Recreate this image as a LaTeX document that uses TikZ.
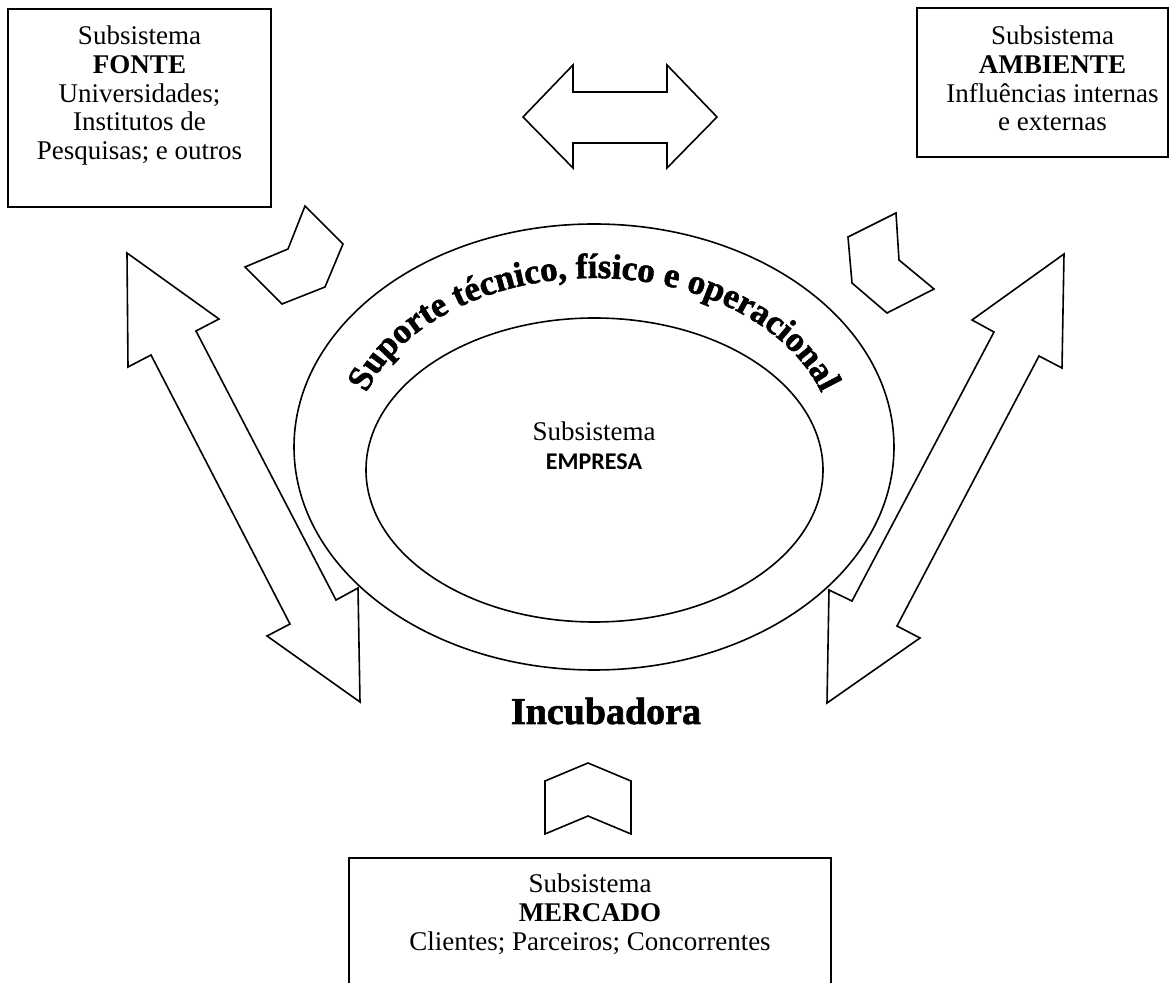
\documentclass[tikz,border=0pt]{standalone}
\usepackage{fontspec}
\setmainfont{Liberation Serif}
\newfontfamily\calibri{Carlito}
\newfontfamily\heavyserif{Liberation Serif}[UprightFont=* Bold,FakeBold=1.6]
\usetikzlibrary{positioning,shapes.geometric,decorations.text}
\newcommand\archfont{\heavyserif\fontsize{17.5}{19}\selectfont}

\begin{document}
\begin{tikzpicture}[x=0.5pt,y=-0.5pt,
  every node/.style={font=\fontsize{13.5}{14.3}\selectfont},
  box/.style={draw,line width=0.8pt,inner sep=0pt},
  txt/.style={align=center,inner sep=0pt},
  ring/.style={draw,ellipse,line width=0.8pt,inner sep=0pt},
  blk/.style={draw,line width=0.8pt,line join=miter,fill=white}]
\useasboundingbox (0,0) rectangle (1174,983);
% subsystem boxes
\node[box,minimum width=131.5pt,minimum height=99pt] (fonte) at (139.5,108) {};
\node[txt,below=8.8pt of fonte.north] (fontetxt) {Subsistema\\\textbf{FONTE}\\Universidades;\\Institutos de\\Pesquisas; e outros};
\node[box,minimum width=125.5pt,minimum height=74.5pt] (ambiente) at (1042.5,82.5) {};
\node[txt,below=9.3pt of ambiente.north,xshift=5pt] (ambientetxt) {Subsistema\\\textbf{AMBIENTE}\\Influências internas\\e externas};
\node[box,minimum width=241pt,minimum height=68.5pt] (mercado) at (590,926.5) {};
\node[txt,below=8.3pt of mercado.north] (mercadotxt) {Subsistema\\\textbf{MERCADO}\\Clientes; Parceiros; Concorrentes};
% incubator rings
\node[ring,minimum width=300pt,minimum height=223pt] (suporte) at (594,447) {};
\node[ring,minimum width=228.5pt,minimum height=152pt] (empresa) at (594.5,470) {};
\node[txt] (empresatxt) at (594,446) {Subsistema\\{\calibri\bfseries\fontsize{12}{14}\selectfont EMPRESA}};
{\archfont
\path[decorate,decoration={text along path,text align=center,
  text={Suporte técnico, físico e operacional}}]
  (594,447) ++(190:240 and 169) arc[start angle=190,end angle=350,x radius=240,y radius=169];}
\node[font=\heavyserif\fontsize{19}{22}\selectfont] (incubadora) at (606,711) {Incubadora};
% block arrows
\draw[blk] (523,117) -- (573,65) -- (573,92) -- (667,92) -- (667,65) -- (717,117)
  -- (667,168) -- (667,143) -- (573,143) -- (573,168) -- cycle;
\draw[blk] (127,253) -- (219,319) -- (196,331) -- (336,600) -- (358,588) -- (360,702)
  -- (267,636) -- (290,624) -- (151,355) -- (128,367) -- cycle;
\draw[blk] (1064,254) -- (1062,368) -- (1039,356) -- (897,626) -- (920,638) -- (827,703)
  -- (829,590) -- (852,601) -- (994,332) -- (972,320) -- cycle;
% chevrons
\draw[blk] (305,206) -- (343,244) -- (325,287) -- (282,304) -- (245,267) -- (288,249) -- cycle;
\draw[blk] (896,213) -- (899,260) -- (934,289) -- (887,313) -- (852,283) -- (848,237) -- cycle;
\draw[blk] (588,763) -- (631,781) -- (631,834) -- (588,816) -- (545,834) -- (545,781) -- cycle;
\end{tikzpicture}
\end{document}
